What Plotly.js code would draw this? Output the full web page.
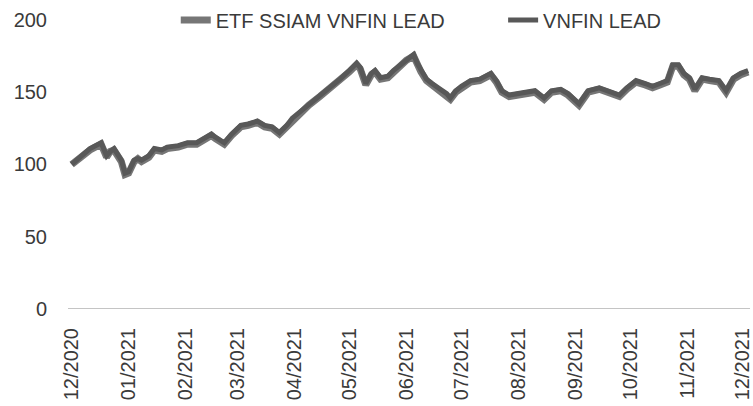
<!DOCTYPE html>
<html>
<head>
<meta charset="utf-8">
<script src="https://cdn.plot.ly/plotly-3.0.1.min.js"></script>
<style>html,body{margin:0;padding:0;background:#fff;}#chart{width:753px;height:406px;}</style>
</head>
<body>
<div id="chart"></div>
<script>
const seriesNames = ["ETF SSIAM VNFIN LEAD", "VNFIN LEAD"];
const dates = [
 "2020-12-01","2020-12-05","2020-12-11","2020-12-17","2020-12-20","2020-12-22","2020-12-24","2020-12-28","2020-12-30",
 "2021-01-01","2021-01-04","2021-01-06","2021-01-08","2021-01-12","2021-01-15","2021-01-19","2021-01-22","2021-01-28",
 "2021-02-02","2021-02-07","2021-02-10","2021-02-15","2021-02-17","2021-02-22","2021-02-26",
 "2021-03-03","2021-03-07","2021-03-12","2021-03-16","2021-03-20","2021-03-24","2021-03-28","2021-03-31",
 "2021-04-04","2021-04-09","2021-04-15","2021-04-20","2021-04-26",
 "2021-05-01","2021-05-05","2021-05-07","2021-05-10","2021-05-13","2021-05-15","2021-05-18","2021-05-22","2021-05-25","2021-05-29",
 "2021-06-01","2021-06-05","2021-06-07","2021-06-09","2021-06-12","2021-06-15","2021-06-19","2021-06-23","2021-06-25","2021-06-28",
 "2021-07-01","2021-07-06","2021-07-11","2021-07-14","2021-07-17","2021-07-20","2021-07-23","2021-07-27",
 "2021-08-01","2021-08-07","2021-08-10","2021-08-15","2021-08-19","2021-08-24","2021-08-28",
 "2021-09-03","2021-09-08","2021-09-14","2021-09-19","2021-09-25","2021-09-29",
 "2021-10-04","2021-10-09","2021-10-13","2021-10-17","2021-10-21","2021-10-24","2021-10-27","2021-10-30",
 "2021-11-02","2021-11-05","2021-11-09","2021-11-13","2021-11-18","2021-11-22","2021-11-26","2021-11-30","2021-12-04"
];
const etfValues = [
 100,104,110,114,105,109,110,102,93,
 94,102,104,102,105,110,109,111,112,
 114,114,116,120,118,114,120,
 126,127,129,126,125,121,126,131,
 135,141,147,152,158,
 164,169,166,155,162,164,159,160,164,168,
 172,175,169,164,158,155,152,148,145,150,
 153,157,158,160,162,157,150,147,
 148,149,150,145,150,151,148,
 141,150,152,150,147,152,
 157,155,153,155,157,168,168,162,
 159,151,159,158,157,150,159,162,164
];
const indexValues = [
 100,104,111,115,106,109,111,103,94,
 95,103,104,103,106,111,110,112,113,
 115,115,117,121,119,115,121,
 127,128,130,127,126,122,127,132,
 136,142,148,153,159,
 165,170,167,156,163,165,160,161,165,169,
 173,176,170,165,159,156,153,149,146,151,
 154,158,159,161,163,158,151,148,
 149,150,151,146,151,152,149,
 142,151,153,151,148,153,
 158,156,154,156,158,169,169,163,
 160,152,160,159,158,151,160,163,165
];
const tickDates = ["2020-12-01","2021-01-01","2021-02-01","2021-03-01","2021-04-01","2021-05-01","2021-06-01","2021-07-01","2021-08-01","2021-09-01","2021-10-01","2021-11-01","2021-12-01"];
const tickLabels = ["12/2020","01/2021","02/2021","03/2021","04/2021","05/2021","06/2021","07/2021","08/2021","09/2021","10/2021","11/2021","12/2021"];
const yTicks = [0, 50, 100, 150, 200];

const FONT = '"Liberation Sans Narrow", "Arial Narrow", "Liberation Sans", Arial, sans-serif';
const legendFont = {family: FONT, size: 20, color: '#3a3a3a'};

const traces = [
  {x: dates, y: etfValues, name: seriesNames[0], type: 'scatter', mode: 'lines',
   legend: 'legend', line: {color: '#767676', width: 7}},
  {x: dates, y: indexValues, name: seriesNames[1], type: 'scatter', mode: 'lines',
   legend: 'legend2', line: {color: '#585858', width: 5}}
];

const layout = {
  width: 753, height: 406,
  margin: {l: 68, r: 3, t: 0, b: 97},
  paper_bgcolor: '#ffffff', plot_bgcolor: '#ffffff',
  font: {family: FONT, size: 20, color: '#3a3a3a'},
  showlegend: true,
  legend: {orientation: 'h', x: 0.158, xanchor: 'left', y: 1.005, yanchor: 'top', yref: 'paper',
           font: legendFont, bgcolor: 'rgba(0,0,0,0)'},
  legend2: {orientation: 'h', x: 0.638, xanchor: 'left', y: 1.005, yanchor: 'top', yref: 'paper',
           font: legendFont, bgcolor: 'rgba(0,0,0,0)'},
  xaxis: {type: 'date', range: ['2020-11-29', '2021-12-05'],
          tickmode: 'array', tickvals: tickDates, ticktext: tickLabels,
          tickangle: -90, showgrid: false, zeroline: false, showline: false,
          ticks: '', ticklabelstandoff: 14, ticklabeloverflow: 'allow',
          tickfont: {family: FONT, size: 20, color: '#3a3a3a'}},
  yaxis: {range: [0, 200], domain: [0, 0.9417], tickmode: 'array', tickvals: yTicks,
          showgrid: false, zeroline: true, zerolinecolor: '#c4c4c4', zerolinewidth: 1,
          showline: false, ticks: '', ticklabelstandoff: 20,
          tickfont: {family: FONT, size: 20, color: '#3a3a3a'}}
};

Plotly.newPlot('chart', traces, layout, {displayModeBar: false, staticPlot: true});
</script>
</body>
</html>
